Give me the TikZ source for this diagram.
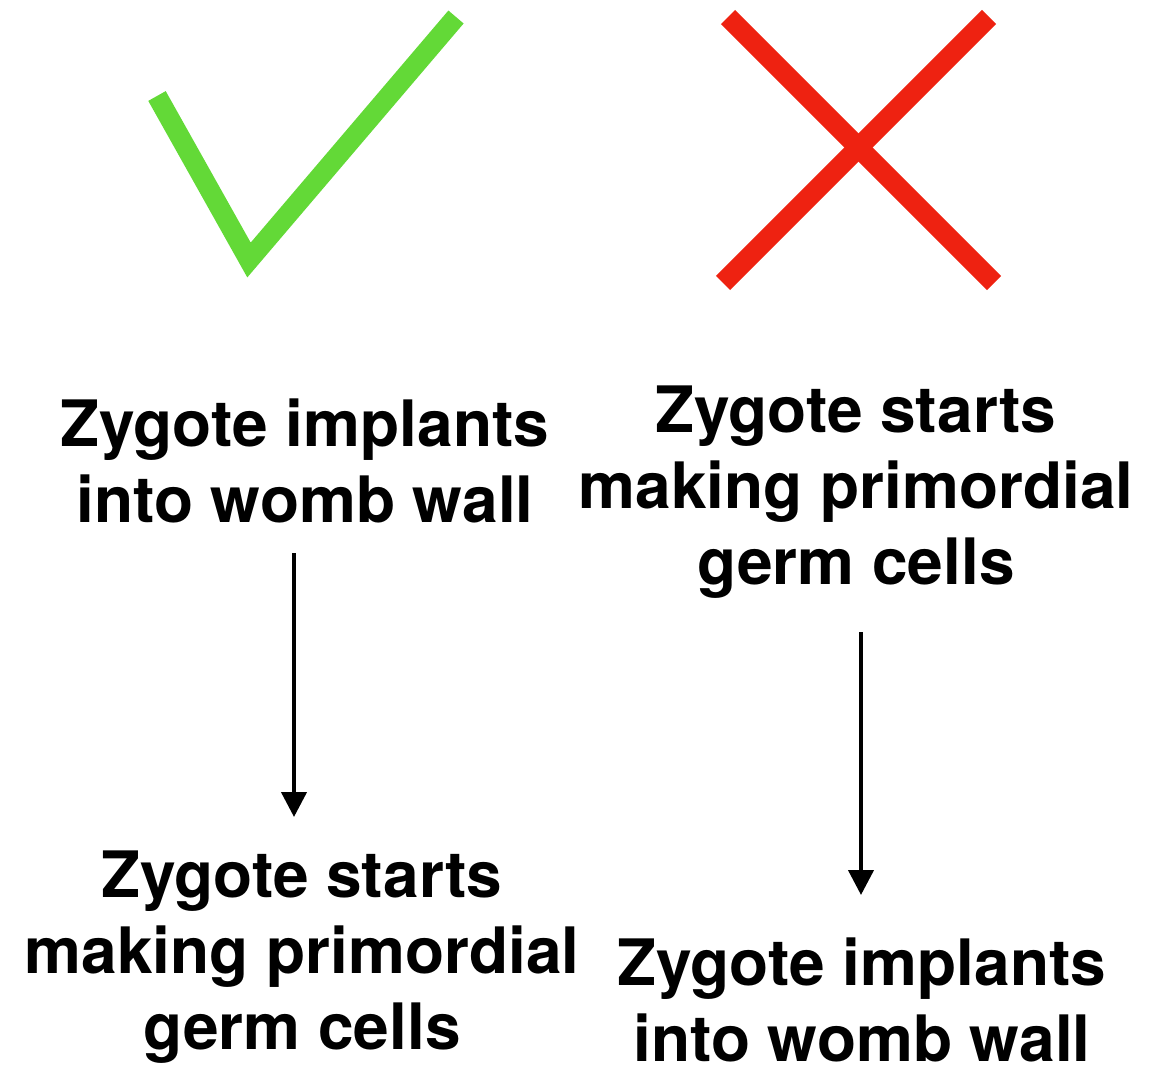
\documentclass[tikz,border=0pt]{standalone}
\usepackage{fontspec}
\setmainfont{TeX Gyre Heros}
\usetikzlibrary{arrows.meta}
\definecolor{okgreen}{RGB}{99,217,55}
\definecolor{nored}{RGB}{238,34,17}
\begin{document}
\begin{tikzpicture}[x=1pt,y=-1pt,
  lbl/.style={inner sep=0pt,align=center,anchor=base,font=\fontsize{64}{76}\selectfont\bfseries},
  arr/.style={line width=4.2pt,-{Triangle[width=25pt,length=25pt]}},
  symstroke/.style={line width=20pt,line join=miter,line cap=butt}]
\useasboundingbox (0,0) rectangle (1162,1068);
% check mark and cross
\draw[symstroke,okgreen] (157,96) -- (249,260) -- (456,17);
\draw[symstroke,nored] (728,17) -- (994,283);
\draw[symstroke,nored] (989,17) -- (723,283);
% texts (base anchor = baseline of last line)
\node[lbl] (tl) at (305,522) {Zygote implants\\into womb wall};
\node[lbl] (tr) at (856,584) {Zygote starts\\making primordial\\germ cells};
\node[lbl] (bl) at (302,1049) {Zygote starts\\making primordial\\germ cells};
\node[lbl] (br) at (862,1061) {Zygote implants\\into womb wall};
% arrows
\coordinate (a1s) at (294,553);
\coordinate (a1e) at (294,817);
\coordinate (a2s) at (861,632);
\coordinate (a2e) at (861,895);
\draw[arr] (a1s) -- (a1e);
\draw[arr] (a2s) -- (a2e);
\end{tikzpicture}
\end{document}
